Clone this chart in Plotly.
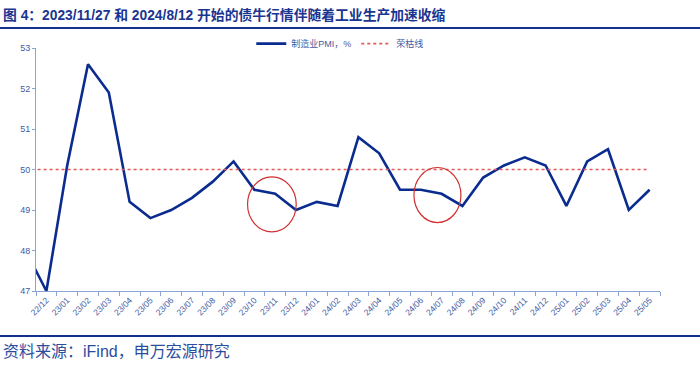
import plotly.graph_objects as go

# ---- data ----
months = ["22/11", "22/12", "23/01", "23/02", "23/03", "23/04", "23/05", "23/06", "23/07", "23/08",
          "23/09", "23/10", "23/11", "23/12", "24/01", "24/02", "24/03", "24/04", "24/05", "24/06",
          "24/07", "24/08", "24/09", "24/10", "24/11", "24/12", "25/01", "25/02", "25/03", "25/04", "25/05"]
pmi = [48.0, 47.0, 50.1, 52.6, 51.9, 49.2, 48.8, 49.0, 49.3, 49.7,
       50.2, 49.5, 49.4, 49.0, 49.2, 49.1, 50.8, 50.4, 49.5, 49.5,
       49.4, 49.1, 49.8, 50.1, 50.3, 50.1, 49.1, 50.2, 50.5, 49.0, 49.5]
boom_bust = [50.0] * len(months)
y_ticks = [47, 48, 49, 50, 51, 52, 53]

# highlighted periods (category index span, value span)
highlights = [
    {"x0": 9.67, "x1": 12.01, "y0": 48.46, "y1": 49.82},
    {"x0": 17.67, "x1": 19.93, "y0": 48.69, "y1": 50.05},
]

x_idx = [i - 1 for i in range(len(months))]  # 22/12 -> 0
shown = list(range(0, len(months) - 1))
shown_labels = months[1:]

BLUE = "#0b2c8f"
TXT = "#3f5aa3"
AX = "#8aa4d6"
FONT = "Liberation Sans, Arial, Noto Sans CJK SC, sans-serif"

fig = go.Figure()
fig.add_trace(go.Scatter(x=x_idx, y=pmi, mode="lines", name="制造业PMI，%",
                         line=dict(color=BLUE, width=2.6)))
fig.add_trace(go.Scatter(x=x_idx, y=boom_bust, mode="lines", name="荣枯线",
                         line=dict(color="#e05a5a", width=1.6, dash="dot")))

for h in highlights:
    fig.add_shape(type="circle", xref="x", yref="y", x0=h["x0"], x1=h["x1"],
                  y0=h["y0"], y1=h["y1"], line=dict(color="#d03030", width=1.2))

fig.add_shape(type="line", xref="paper", yref="paper", x0=-0.06, x1=1.07, y0=1.082, y1=1.082,
              line=dict(color="#12308c", width=2))
fig.add_shape(type="line", xref="paper", yref="paper", x0=-0.06, x1=1.07, y0=-0.185, y1=-0.185,
              line=dict(color="#12308c", width=2))

fig.add_annotation(text="<b>图 4：2023/11/27 和 2024/8/12 开始的债牛行情伴随着工业生产加速收缩</b>",
                   xref="paper", yref="paper", x=-0.056, y=1.095, xanchor="left", yanchor="bottom",
                   showarrow=False, font=dict(family=FONT, size=13.8, color="#1a3590"))
fig.add_annotation(text="资料来源：iFind，申万宏源研究",
                   xref="paper", yref="paper", x=-0.056, y=-0.205, xanchor="left", yanchor="top",
                   showarrow=False, font=dict(family=FONT, size=16, color="#2c4d9e"))

fig.update_layout(
    width=700, height=368,
    margin=dict(l=36, r=40, t=48, b=77, autoexpand=False),
    paper_bgcolor="white", plot_bgcolor="white",
    font=dict(family=FONT, color=TXT, size=9),
    showlegend=True,
    legend=dict(orientation="h", x=0.345, y=1.018, xanchor="left", yanchor="middle",
                font=dict(size=9, color=TXT), itemwidth=30, bgcolor="rgba(0,0,0,0)",
                tracegroupgap=0),
    xaxis=dict(range=[-0.5, len(months) - 1.5], tickvals=shown, ticktext=shown_labels,
               tickangle=-45, showgrid=False, zeroline=False, showline=True, automargin=False,
               linecolor=AX, linewidth=1, ticks="", tickfont=dict(size=8.5, color=TXT),
               minor=dict(ticks="outside", tick0=-0.5, dtick=1, ticklen=4, tickcolor=AX,
                          showgrid=False)),
    yaxis=dict(range=[47, 53], tickvals=y_ticks, showgrid=False, zeroline=False, automargin=False,
               showline=True, linecolor=AX, linewidth=1, ticks="outside", ticklen=3,
               tickcolor=AX, tickfont=dict(size=9, color=TXT)),
)

fig.write_html("out.html", config={"displayModeBar": False},
               post_script="document.body.style.margin='0';document.body.style.overflow='hidden';")
